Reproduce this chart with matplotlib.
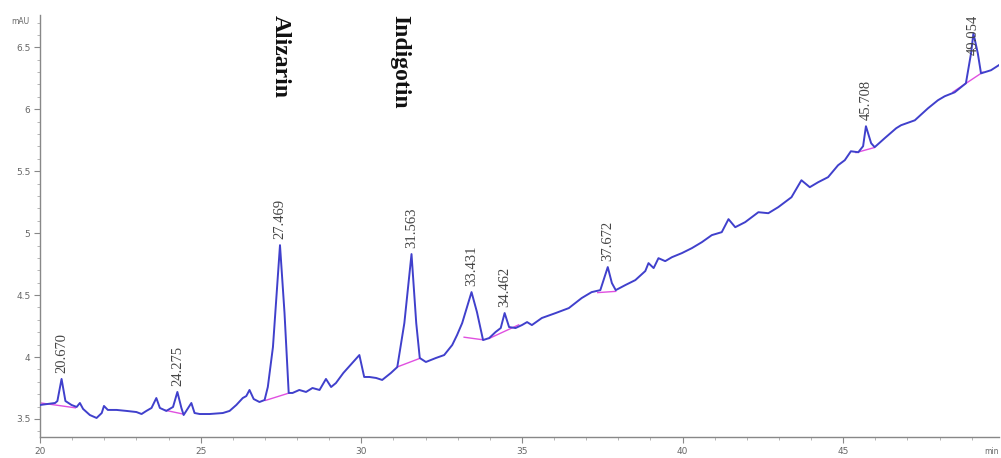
import matplotlib
matplotlib.use("Agg")
import matplotlib.pyplot as plt
from matplotlib.ticker import MultipleLocator
import matplotlib.transforms as mtransforms

# chromatogram trace (time in min, signal in mAU)
time = [20.00, 20.47, 20.54, 20.67, 20.79, 20.98, 21.14, 21.24, 21.34, 21.55,
        21.76, 21.92, 21.99, 22.11, 22.38, 22.69, 23.00, 23.16, 23.31, 23.47,
        23.62, 23.73, 23.93, 24.14, 24.275, 24.40, 24.47, 24.61, 24.71, 24.81,
        24.97, 25.28, 25.69, 25.90, 26.11, 26.31, 26.42, 26.52, 26.65, 26.83,
        26.99, 27.09, 27.25, 27.469, 27.61, 27.74, 27.86, 28.07, 28.28, 28.48,
        28.70, 28.90, 29.06, 29.21, 29.44, 29.72, 29.94, 30.09, 30.25, 30.46,
        30.65, 30.92, 31.12, 31.34, 31.563, 31.71, 31.82, 32.01, 32.32, 32.58,
        32.83, 32.98, 33.14, 33.431, 33.60, 33.79, 33.98, 34.18, 34.34, 34.462,
        34.60, 34.80, 35.00, 35.16, 35.31, 35.62, 36.05, 36.46, 36.86, 37.17,
        37.44, 37.672, 37.80, 37.92, 38.22, 38.53, 38.84, 38.94, 39.10, 39.25,
        39.46, 39.67, 39.98, 40.29, 40.60, 40.91, 41.22, 41.43, 41.64, 41.95,
        42.36, 42.67, 42.98, 43.39, 43.70, 43.96, 44.22, 44.53, 44.84, 45.05,
        45.24, 45.47, 45.62, 45.708, 45.87, 45.98, 46.29, 46.65, 46.80, 47.23,
        47.64, 47.95, 48.16, 48.47, 48.82, 48.98, 49.054, 49.19, 49.29, 49.60,
        49.84]
signal = [3.613, 3.629, 3.645, 3.823, 3.645, 3.613, 3.597, 3.629, 3.581, 3.532,
          3.508, 3.548, 3.605, 3.573, 3.573, 3.565, 3.556, 3.540, 3.565, 3.589,
          3.669, 3.589, 3.565, 3.597, 3.718, 3.589, 3.532, 3.589, 3.629, 3.548,
          3.540, 3.540, 3.548, 3.565, 3.613, 3.669, 3.685, 3.734, 3.661, 3.637,
          3.653, 3.758, 4.081, 4.903, 4.355, 3.710, 3.710, 3.734, 3.718, 3.750,
          3.734, 3.823, 3.758, 3.790, 3.871, 3.952, 4.016, 3.839, 3.839, 3.831,
          3.815, 3.871, 3.919, 4.274, 4.831, 4.274, 3.992, 3.960, 3.992, 4.016,
          4.097, 4.177, 4.274, 4.524, 4.363, 4.137, 4.153, 4.202, 4.234, 4.355,
          4.242, 4.234, 4.258, 4.282, 4.258, 4.315, 4.355, 4.395, 4.476, 4.524,
          4.540, 4.726, 4.597, 4.540, 4.581, 4.621, 4.694, 4.758, 4.718, 4.798,
          4.774, 4.806, 4.839, 4.879, 4.927, 4.984, 5.008, 5.113, 5.048, 5.089,
          5.169, 5.161, 5.210, 5.290, 5.427, 5.371, 5.411, 5.452, 5.548, 5.589,
          5.661, 5.653, 5.702, 5.863, 5.726, 5.694, 5.766, 5.847, 5.871, 5.911,
          6.008, 6.073, 6.105, 6.137, 6.210, 6.452, 6.613, 6.452, 6.290, 6.315,
          6.355]

# integration baselines under the labelled peaks
base_t0 = [20.00, 23.90, 27.02, 31.12, 33.20, 33.98, 37.36, 45.40, 48.42]
base_v0 = [3.63, 3.57, 3.65, 3.92, 4.16, 4.15, 4.52, 5.65, 6.14]
base_t1 = [21.10, 24.45, 27.76, 31.83, 33.76, 34.90, 37.92, 45.96, 49.35]
base_v1 = [3.59, 3.54, 3.71, 3.99, 4.14, 4.26, 4.53, 5.69, 6.30]

# retention time labels
peak_t = [20.670, 24.275, 27.469, 31.563, 33.431, 34.462, 37.672, 45.708, 49.054]
peak_v = [3.823, 3.718, 4.903, 4.831, 4.524, 4.355, 4.726, 5.863, 6.613]

compounds = ["Alizarin", "Indigotin"]
compound_t = [27.47, 31.20]

xmin, xmax = 20, 49.85
ymin, ymax = 3.355, 6.76

fig = plt.figure(figsize=(10.01, 4.58), dpi=100)
ax = fig.add_axes([0.040, 0.046, 0.958, 0.921])

for t0, v0, t1, v1 in zip(base_t0, base_v0, base_t1, base_v1):
    ax.plot([t0, t1], [v0, v1], color="#e050e0", lw=1.0, zorder=2)
ax.plot(time, signal, color="#4040cc", lw=1.4, zorder=3)

# retention time labels above each peak, kept inside the plot
for t, v in zip(peak_t, peak_v):
    y = v + 0.05
    if y + 0.36 > ymax:
        ax.text(t, ymax, f"{t:.3f}", rotation=90, ha="center", va="top",
                fontsize=10.5, family="Liberation Serif", color="#444444", zorder=4)
    else:
        ax.text(t, y, f"{t:.3f}", rotation=90, ha="center", va="bottom",
                fontsize=10.5, family="Liberation Serif", color="#444444", zorder=4)

trans = mtransforms.blended_transform_factory(ax.transData, ax.transAxes)
for name, t in zip(compounds, compound_t):
    ax.text(t, 1.0, name, rotation=-90, ha="center", va="top", transform=trans,
            fontsize=17, fontweight="bold", family="Liberation Serif", color="#111111")

ax.set_xlim(xmin, xmax)
ax.set_ylim(ymin, ymax)
ax.xaxis.set_major_locator(MultipleLocator(5))
ax.xaxis.set_minor_locator(MultipleLocator(1))
ax.yaxis.set_minor_locator(MultipleLocator(0.1))
ax.set_yticks([3.5, 4, 4.5, 5, 5.5, 6, 6.5])
ax.set_yticklabels(["3.5", "4", "4.5", "5", "5.5", "6", "6.5"])

for side in ["top", "right"]:
    ax.spines[side].set_visible(False)
for side in ["left", "bottom"]:
    ax.spines[side].set_color("#888888")
    ax.spines[side].set_linewidth(1.0)
ax.tick_params(which="major", direction="out", length=4, width=0.8, color="#888888",
               labelsize=6.5, labelcolor="#666666", pad=3)
ax.tick_params(which="minor", direction="out", length=2, width=0.6, color="#aaaaaa")

fig.text(20 / 1001, 1 - 22 / 458, "mAU", fontsize=5.5, color="#666666", ha="center", va="center")
fig.text(999 / 1001, 1 - 451 / 458, "min", fontsize=5.5, color="#666666", ha="right", va="center")

fig.savefig("out.png", dpi=100)
